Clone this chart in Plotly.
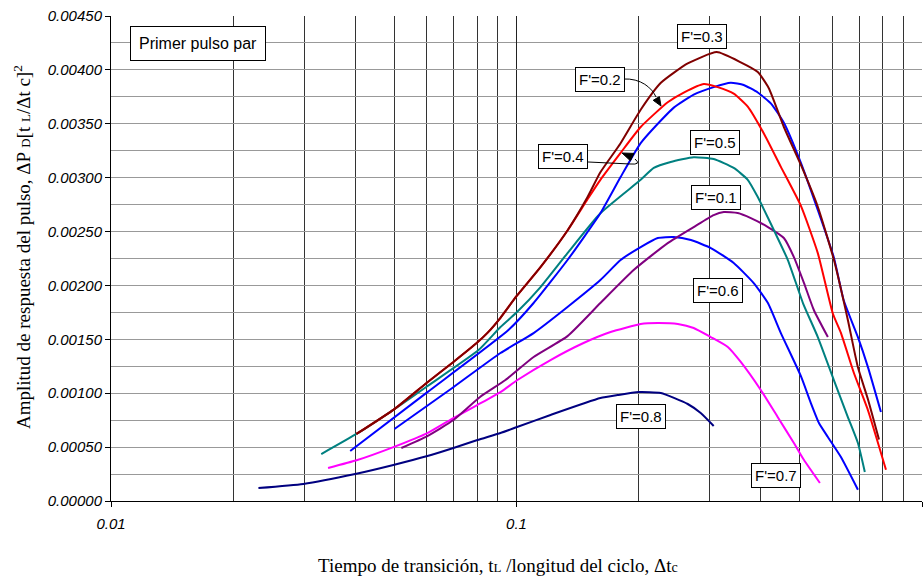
import plotly.graph_objects as go

# ---- data: pulse response amplitude vs. transition time / cycle length ----
x_f03 = [0.0403, 0.050, 0.060, 0.0699, 0.080, 0.0848, 0.0913, 0.100, 0.1146, 0.1336, 0.1497, 0.161, 0.1806,
         0.2024, 0.227, 0.2644, 0.3118, 0.3573, 0.3936, 0.419, 0.4564, 0.5025, 0.5534, 0.6062, 0.6564, 0.695,
         0.7362, 0.7834]
y_f03 = [0.000622, 0.000853, 0.001095, 0.00129, 0.00147, 0.00156, 0.00170, 0.00190, 0.00217, 0.00251, 0.00282,
         0.00305, 0.00332, 0.00363, 0.00388, 0.00406, 0.004165, 0.00407, 0.00398, 0.00383, 0.00347, 0.00312,
         0.00273, 0.00224, 0.00168, 0.00124, 0.00094, 0.00057]

x_f02 = [0.0403, 0.050, 0.060, 0.0699, 0.080, 0.0848, 0.0913, 0.100, 0.1146, 0.1336, 0.1497, 0.161, 0.1806,
         0.2024, 0.236, 0.2585, 0.2897, 0.3134, 0.3433, 0.3718, 0.4074, 0.4487, 0.5025, 0.5534, 0.6026, 0.631,
         0.679, 0.736, 0.815]
y_f02 = [0.000622, 0.000853, 0.001095, 0.00129, 0.00147, 0.00156, 0.00170, 0.00190, 0.00217, 0.00251, 0.00280,
         0.00298, 0.00323, 0.00347, 0.0037, 0.00379, 0.00387, 0.00384, 0.00378, 0.00366, 0.00341, 0.0031,
         0.00274, 0.0023, 0.00174, 0.00156, 0.00119, 0.00084, 0.00029]

x_f04 = [0.0389, 0.0603, 0.0955, 0.1102, 0.1336, 0.161, 0.1806, 0.2024, 0.227, 0.2443, 0.2735, 0.3064, 0.3375,
         0.3633, 0.3936, 0.4238, 0.4564, 0.5025, 0.5534, 0.6062, 0.6414, 0.695, 0.736, 0.792]
y_f04 = [0.000464, 0.00101, 0.001586, 0.001837, 0.002236, 0.00267, 0.003006, 0.00332, 0.00353, 0.00365, 0.00377,
         0.00384, 0.00388, 0.00386, 0.00379, 0.00369, 0.00351, 0.00314, 0.0027, 0.00226, 0.00186, 0.00152,
         0.00124, 0.000826]

x_f05 = [0.0330, 0.0403, 0.050, 0.060, 0.0806, 0.0913, 0.1003, 0.1146, 0.1336, 0.161, 0.2024, 0.218, 0.240,
         0.2735, 0.3064, 0.3433, 0.3718, 0.3936, 0.4049, 0.4311, 0.4669, 0.5086, 0.5534, 0.6062, 0.6564, 0.695,
         0.7228]
y_f05 = [0.000436, 0.000622, 0.000853, 0.00106, 0.0014, 0.001614, 0.001753, 0.001985, 0.0023, 0.00267, 0.00298,
         0.00309, 0.003145, 0.00319, 0.003173, 0.00309, 0.00298, 0.00282, 0.002727, 0.002514, 0.002236,
         0.001837, 0.001521, 0.001122, 0.000779, 0.000538, 0.000269]

x_f01 = [0.0520, 0.0603, 0.0699, 0.0813, 0.0939, 0.1102, 0.1336, 0.161, 0.1945, 0.236, 0.2735, 0.3064, 0.3245,
         0.3513, 0.3784, 0.4169, 0.4564, 0.4831, 0.5117, 0.5411, 0.586]
y_f01 = [0.000492, 0.000603, 0.000751, 0.000965, 0.001122, 0.001336, 0.00153, 0.001837, 0.002143, 0.002393,
         0.002542, 0.002653, 0.002681, 0.002672, 0.002625, 0.002542, 0.00244, 0.002263, 0.002022, 0.001772,
         0.001521]

x_f06 = [0.050, 0.070, 0.0913, 0.1102, 0.1336, 0.161, 0.1806, 0.2024, 0.223, 0.2443, 0.2692, 0.3015, 0.3433,
         0.3846, 0.4169, 0.4487, 0.5025, 0.532, 0.557, 0.586, 0.631, 0.695]
y_f06 = [0.000668, 0.001058, 0.001373, 0.001558, 0.0018, 0.00205, 0.002236, 0.002356, 0.00244, 0.002449,
         0.002421, 0.002347, 0.002208, 0.002022, 0.001837, 0.001558, 0.00116, 0.000909, 0.000724, 0.000594,
         0.000408, 0.000105]

x_f07 = [0.0343, 0.0405, 0.0497, 0.0603, 0.0699, 0.080, 0.0913, 0.1003, 0.1213, 0.1463, 0.1706, 0.2024, 0.223,
         0.250, 0.2735, 0.3013, 0.332, 0.3573, 0.4003, 0.4406, 0.4831, 0.5117, 0.560]
y_f07 = [0.000306, 0.00038, 0.0005, 0.00063, 0.00077, 0.00089, 0.00101, 0.00112, 0.001308, 0.001466, 0.001568,
         0.001642, 0.001651, 0.001642, 0.001605, 0.001521, 0.001429, 0.00129, 0.00103, 0.00078, 0.000538,
         0.00038, 0.000167]

x_f08 = [0.0231, 0.0298, 0.040, 0.0497, 0.0603, 0.0699, 0.0801, 0.0913, 0.1003, 0.1213, 0.161, 0.1775, 0.2001,
         0.2269, 0.2644, 0.2846, 0.3064]
y_f08 = [0.00012, 0.000158, 0.00025, 0.000334, 0.000417, 0.000492, 0.000566, 0.000631, 0.000686, 0.000798,
         0.000955, 0.000983, 0.001011, 0.001002, 0.0009, 0.000816, 0.000696]

x_ticks = [0.01, 0.1, 1]
x_tick_text = ["0.01", "0.1", "1"]
x_minor = [0.02, 0.03, 0.04, 0.05, 0.06, 0.07, 0.08, 0.09, 0.2, 0.3, 0.4, 0.5, 0.6, 0.7, 0.8, 0.9]
y_ticks = [0.0, 0.0005, 0.001, 0.0015, 0.002, 0.0025, 0.003, 0.0035, 0.004, 0.0045]
y_minor = [0.00025, 0.00075, 0.00125, 0.00175, 0.00225, 0.00275, 0.00325, 0.00375, 0.00425]

series = [
    ("F'=0.8", x_f08, y_f08, "#000080"),
    ("F'=0.7", x_f07, y_f07, "#FF00FF"),
    ("F'=0.6", x_f06, y_f06, "#0000FF"),
    ("F'=0.1", x_f01, y_f01, "#800080"),
    ("F'=0.5", x_f05, y_f05, "#008080"),
    ("F'=0.4", x_f04, y_f04, "#0000FF"),
    ("F'=0.2", x_f02, y_f02, "#FF0000"),
    ("F'=0.3", x_f03, y_f03, "#800000"),
]

W, H = 923, 576
ML, MR, MT, MB = 111, 1, 16, 75
PW, PH = W - ML - MR, H - MT - MB


def paper(px, py):
    """Figure pixel position -> paper fraction."""
    return (px - ML) / PW, (H - MB - py) / PH


fig = go.Figure()
for name, xs, ys, col in series:
    fig.add_trace(go.Scatter(x=xs, y=ys, mode="lines", name=name,
                             line=dict(color=col, width=2, shape="spline", smoothing=0.5),
                             hoverinfo="x+y+name"))

sans = "Liberation Sans, Arial, sans-serif"
serif = "Liberation Serif, Times New Roman, serif"

# boxed curve labels (center positions in figure pixels)
labels = [
    ("Primer pulso par", 198, 43, 16, 8),
    ("F'=0.3", 702, 37, 15, 3),
    ("F'=0.2", 600, 80, 15, 3),
    ("F'=0.4", 563, 157, 15, 3),
    ("F'=0.5", 715, 142, 15, 3),
    ("F'=0.1", 716, 197, 15, 3),
    ("F'=0.6", 718, 290, 15, 3),
    ("F'=0.8", 641, 416, 15, 3),
    ("F'=0.7", 776, 475, 15, 3),
]
annotations = []
for text, cx, cy, fs, pad in labels:
    ax_, ay_ = paper(cx, cy)
    annotations.append(dict(text=text, x=ax_, y=ay_, xref="paper", yref="paper", showarrow=False,
                            xanchor="center", yanchor="middle", font=dict(family=sans, size=fs, color="black"),
                            bgcolor="white", bordercolor="black", borderwidth=1, borderpad=pad))

# axis titles
tx, ty = paper(498, 565)
annotations.append(dict(
    text="Tiempo de transición, t<span style='font-size:13px'>L</span> /longitud del ciclo, Δt<span style='font-size:14px'>c</span>",
    x=tx, y=ty, xref="paper", yref="paper", showarrow=False, xanchor="center", yanchor="middle",
    font=dict(family=serif, size=19, color="black")))
tx, ty = paper(22, 247)
annotations.append(dict(
    text="Amplitud de respuesta del pulso, ΔP <span style='font-size:13px'>D</span>[t <span style='font-size:13px'>L</span>/Δt c]<sup>2</sup>",
    x=tx, y=ty, xref="paper", yref="paper", showarrow=False, textangle=-90, xanchor="center", yanchor="middle",
    font=dict(family=serif, size=19, color="black")))


def path(points, closed=False):
    s = ""
    for cmd, pts in points:
        coords = " ".join("%.5f,%.5f" % paper(px, py) for px, py in pts)
        s += "%s %s " % (cmd, coords)
    return s + ("Z" if closed else "")


shapes = [
    # leader for F'=0.2
    dict(type="path", xref="paper", yref="paper", line=dict(color="black", width=1),
         path=path([("M", [(623, 79)]), ("C", [(641, 78), (652, 88), (656, 97)])])),
    dict(type="path", xref="paper", yref="paper", line=dict(color="black", width=1), fillcolor="black",
         path=path([("M", [(661, 106)]), ("L", [(653.2, 100.3)]), ("L", [(659.4, 96.6)])], closed=True)),
    # leader for F'=0.4
    dict(type="path", xref="paper", yref="paper", line=dict(color="black", width=1),
         path=path([("M", [(588, 162)]), ("L", [(630, 164)]), ("Q", [(642, 165), (635, 159)])])),
    dict(type="path", xref="paper", yref="paper", line=dict(color="black", width=1), fillcolor="black",
         path=path([("M", [(622, 153)]), ("L", [(634, 153.4)]), ("L", [(630.4, 160.8)])], closed=True)),
]

fig.update_layout(
    width=W, height=H, margin=dict(l=ML, r=MR, t=MT, b=MB),
    paper_bgcolor="white", plot_bgcolor="white", showlegend=False,
    annotations=annotations, shapes=shapes,
    xaxis=dict(type="log", range=[-2, 0], tickmode="array", tickvals=x_ticks, ticktext=x_tick_text,
               showgrid=True, gridcolor="#222222", gridwidth=1,
               minor=dict(tickmode="array", tickvals=x_minor, showgrid=True, gridcolor="#333333",
                          gridwidth=1, ticks=""),
               showline=True, linecolor="black", linewidth=1, ticks="outside", ticklen=5, tickcolor="black",
               ticklabelstandoff=4,
               tickfont=dict(family=sans, size=15, color="black", style="italic"), zeroline=False),
    yaxis=dict(range=[0, 0.0045], tickmode="array", tickvals=y_ticks, tickformat=".5f",
               showgrid=True, gridcolor="#999999", gridwidth=1,
               minor=dict(tickmode="array", tickvals=y_minor, showgrid=True, gridcolor="#999999",
                          gridwidth=1, ticks=""),
               showline=True, linecolor="black", linewidth=1, ticks="outside", ticklen=5, tickcolor="black",
               tickfont=dict(family=sans, size=15, color="black", style="italic"), zeroline=False),
)

fig.write_html("out.html")
